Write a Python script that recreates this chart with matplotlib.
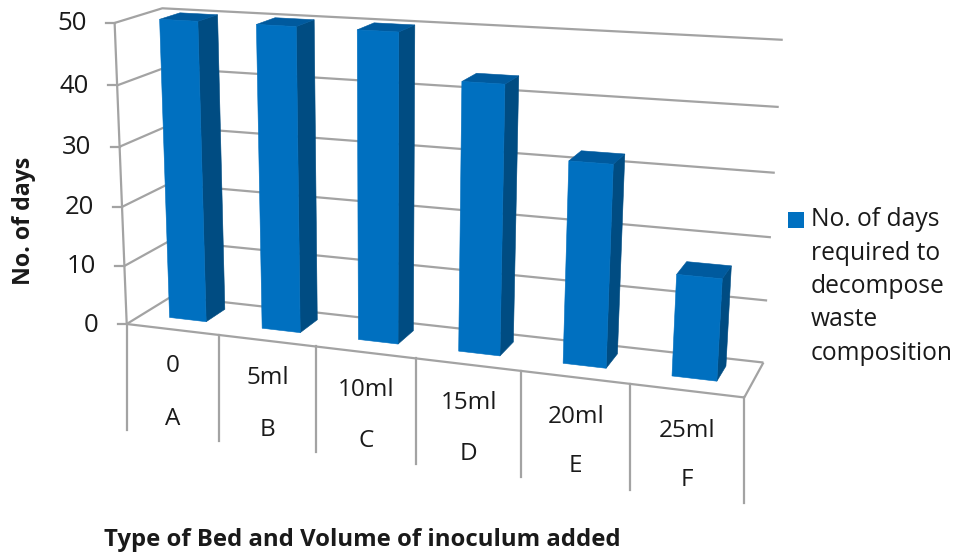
import numpy as np
import matplotlib
matplotlib.use('Agg')
import matplotlib.pyplot as plt

# Chart data
categories = ['0', '5ml', '10ml', '15ml', '20ml', '25ml']
bed_names = ['A', 'B', 'C', 'D', 'E', 'F']
days = [50, 50, 50, 43, 32, 16]
y_ticks = [0, 10, 20, 30, 40, 50]
legend_lines = ['No. of days', 'required to', 'decompose', 'waste', 'composition']

FRONT = '#0070C0'
SIDE = '#004C82'
TOP = '#005A9E'
GRID = '#A3A3A3'
TEXT = '#1a1a1a'

plt.rcParams['font.family'] = ['Open Sans', 'DejaVu Sans']

# Fit a camera: (category, value, depth) -> picture pixels
world = [(0, 0, 0), (0, 50, 0), (0, 0, 1), (0, 50, 1), (6, 0, 1), (6, 50, 1), (6, 0, 0),
         (1, 0, 0), (2, 0, 0), (5, 0, 0), (6, 40, 1), (6, 30, 1), (6, 10, 1)]
pixels = [(129, 322), (112, 23), (169, 298), (165, 8), (764, 361), (783, 40), (745, 398),
          (220, 335), (316, 347), (629, 385), (778, 107), (775, 173), (767, 300)]
rows, rhs = [], []
for (wx, wy, wz), (px, py) in zip(world, pixels):
    rows.append([wx, wy, wz, 1, 0, 0, 0, 0, -px * wx, -px * wy, -px * wz])
    rhs.append(px)
    rows.append([0, 0, 0, 0, wx, wy, wz, 1, -py * wx, -py * wy, -py * wz])
    rhs.append(py)
cam = np.append(np.linalg.lstsq(np.array(rows, float), np.array(rhs, float), rcond=None)[0], 1).reshape(3, 4)


def project(x, y, z):
    u, v, w = cam @ np.array([x, y, z, 1.0])
    return u / w, v / w


def line3d(ax, pts, lw=1.6):
    xy = [project(*p) for p in pts]
    ax.plot([p[0] for p in xy], [p[1] for p in xy], color=GRID, lw=lw, solid_capstyle='butt', zorder=1)


def face(ax, pts, color, z):
    xy = [project(*p) for p in pts]
    ax.fill([p[0] for p in xy], [p[1] for p in xy], color=color, lw=0.4, zorder=z)


fig = plt.figure(figsize=(9.55, 5.54), dpi=100)
ax = fig.add_axes([0, 0, 1, 1])
ax.set_xlim(0, 955)
ax.set_ylim(554, 0)
ax.axis('off')

n = len(days)
top_val = y_ticks[-1]

# walls and floor
for v in y_ticks:
    line3d(ax, [(0, v, 0), (0, v, 1), (n, v, 1)])
    px, py = project(0, v, 0)
    ax.plot([px - 9, px], [py, py], color=GRID, lw=1.6, zorder=1)
    ax.text(px - 28, py + 1, str(v), ha='right', va='center', fontsize=18.5, color=TEXT)
line3d(ax, [(0, 0, 0), (0, top_val, 0)])
line3d(ax, [(0, 0, 0), (n, 0, 0), (n, 0, 1)])

# category dividers under the floor
for i in range(n + 1):
    px, py = project(i, 0, 0)
    ax.plot([px, px], [py, py + 106], color=GRID, lw=1.6, zorder=1)

# bars
x0, x1 = 0.3, 0.7
z0, z1 = 0.34, 0.78
for i, val in enumerate(days):
    a, b = i + x0, i + x1
    face(ax, [(b, 0, z0), (b, 0, z1), (b, val, z1), (b, val, z0)], SIDE, 3 + i)
    face(ax, [(a, val, z0), (b, val, z0), (b, val, z1), (a, val, z1)], TOP, 3 + i)
    face(ax, [(a, 0, z0), (b, 0, z0), (b, val, z0), (a, val, z0)], FRONT, 3 + i)

# category labels, two levels
for i in range(n):
    left = project(i, 0, 0)
    right = project(i + 1, 0, 0)
    cx = (left[0] + right[0]) / 2
    cy = (left[1] + right[1]) / 2
    ax.text(cx, cy + 36 + 0.8 * i, categories[i], ha='center', va='center', fontsize=17.5, color=TEXT)
    ax.text(cx, cy + 89, bed_names[i], ha='center', va='center', fontsize=17.5, color=TEXT)

# axis titles
ax.text(24, 221, 'No. of days', rotation=90, ha='center', va='center', fontsize=16.7, fontweight='bold', color=TEXT)
ax.text(362, 540, 'Type of Bed and Volume of inoculum added', ha='center', va='center', fontsize=17.2, fontweight='bold', color=TEXT)

# legend
ax.fill([788, 804, 804, 788], [212, 212, 228, 228], color=FRONT, lw=0)
for k, line in enumerate(legend_lines):
    ax.text(811, 220 + k * 33.3, line, ha='left', va='center', fontsize=17.7, color=TEXT)

fig.savefig('out.png', dpi=100)
